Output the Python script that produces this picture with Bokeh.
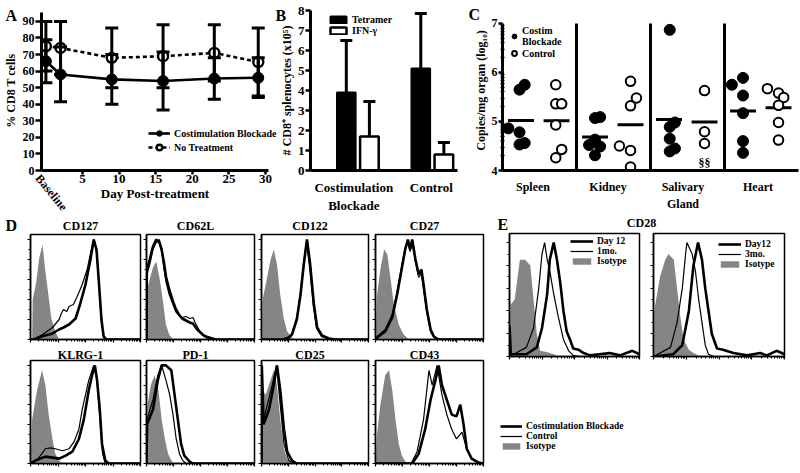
import numpy as np
from bokeh.plotting import figure
from bokeh.layouts import row, column
from bokeh.models import (Range1d, FixedTicker, Whisker, TeeHead, Legend, LegendItem,
                          Label, ColumnDataSource, GridBox)
from bokeh.embed import file_html
from bokeh.resources import INLINE

FONT = "Liberation Serif"
GRAY = "#858585"

# ---------------- Panel A data ----------------
days = [0, 2, 9, 16, 23, 29]
cb_pct = [66, 58, 55, 54, 55.5, 56]
cb_pct_err = [13, 16.5, 15, 17.5, 12.5, 12]
nt_pct = [75, 74, 68, 69, 71, 65.5]
nt_pct_err = [15, 16, 18, 19, 17, 20.5]
day_ticks = [5, 10, 15, 20, 25, 30]
pct_ticks = [0, 10, 20, 30, 40, 50, 60, 70, 80, 90]

# ---------------- Panel B data ----------------
b_groups = ["Costimulation\nBlockade", "Control"]
tetramer = [3.9, 5.1]
tetramer_err = [2.6, 2.75]
ifng = [1.7, 0.8]
ifng_err = [1.75, 0.6]
b_ticks = [0, 1, 2, 3, 4, 5, 6, 7, 8]

# ---------------- Panel C data ----------------
organs = ["Spleen", "Kidney", "Salivary\nGland", "Heart"]
cb_spleen = [4.86, 4.78, 5.65, 5.75, 4.53, 4.56]
cb_kidney = [5.07, 5.09, 4.63, 4.52, 4.49, 4.31]
cb_salivary = [6.87, 4.89, 4.98, 4.65, 4.39, 4.45]
cb_heart = [5.75, 5.89, 5.53, 5.17, 4.60, 4.36]
ct_spleen = [5.75, 5.36, 5.36, 4.93, 4.43, 4.26]
ct_kidney = [5.82, 5.48, 5.32, 4.50, 4.41, 4.07]
ct_salivary = [5.63, 4.79, 4.55]
ct_heart = [5.67, 5.58, 5.49, 5.33, 4.98, 4.62]
cb_jitter_spleen = [-0.17, -0.02, -0.02, 0.05, -0.02, 0.05]
cb_jitter_kidney = [0.0, 0.07, 0.0, -0.08, 0.07, 0.0]
cb_jitter_salivary = [0.01, 0.01, 0.08, 0.01, 0.01, 0.08]
cb_jitter_heart = [-0.15, 0.0, 0.0, 0.0, 0.0, 0.0]
ct_jitter_spleen = [-0.01, -0.01, 0.07, -0.01, 0.07, -0.01]
ct_jitter_kidney = [0.0, 0.08, 0.0, -0.15, 0.0, 0.0]
ct_jitter_salivary = [0.0, 0.0, 0.0]
ct_jitter_heart = [-0.15, 0.0, 0.07, 0.0, 0.0, 0.0]
c_ticks = [4, 5, 6, 7]

# ---------------- Panel D / E histogram data (x: 0-1 log axis, y: % of max) ----------------
CD127_CB = [(0, 0), (0.03, 0), (0.1, 3), (0.2, 6), (0.26, 10), (0.3, 12), (0.35, 15), (0.41, 21), (0.45, 35),
            (0.5, 55), (0.545, 80), (0.575, 100), (0.6, 90), (0.62, 60), (0.645, 20), (0.665, 3), (0.69, 0), (1, 0)]
CD127_CTRL = [(0, 0), (0.03, 0), (0.11, 5), (0.2, 12), (0.26, 20), (0.28, 26), (0.3, 30), (0.33, 28), (0.35, 33),
              (0.39, 35), (0.42, 42), (0.44, 47), (0.47, 55), (0.485, 60), (0.515, 70), (0.545, 86), (0.575, 100),
              (0.6, 88), (0.62, 58), (0.645, 18), (0.665, 2), (0.69, 0), (1, 0)]
CD127_ISO = [(0, 0), (0.015, 0), (0.02, 40), (0.05, 56), (0.08, 82), (0.11, 95), (0.13, 73), (0.16, 47),
             (0.19, 21), (0.225, 8), (0.26, 0), (1, 0)]

CD62L_CB = [(0, 0), (0.003, 70), (0.03, 80), (0.06, 93), (0.09, 100), (0.12, 97), (0.14, 90), (0.16, 78),
            (0.18, 63), (0.21, 50), (0.245, 38), (0.27, 31), (0.3, 25), (0.33, 21), (0.365, 19), (0.4, 17),
            (0.43, 16), (0.45, 13), (0.47, 10), (0.5, 7), (0.52, 5), (0.55, 3), (0.58, 2), (0.64, 0), (1, 0)]
CD62L_CTRL = [(0, 0), (0.003, 65), (0.03, 75), (0.06, 90), (0.09, 97), (0.12, 100), (0.14, 88), (0.16, 72),
              (0.18, 58), (0.21, 45), (0.245, 35), (0.27, 28), (0.3, 24), (0.33, 22), (0.365, 23), (0.4, 21),
              (0.43, 22), (0.45, 17), (0.47, 13), (0.5, 7), (0.52, 4), (0.55, 2), (0.6, 0), (1, 0)]
CD62L_ISO = [(0, 0), (0.005, 50), (0.03, 60), (0.06, 72), (0.09, 78), (0.12, 62), (0.15, 40), (0.18, 15),
             (0.21, 5), (0.245, 0), (1, 0)]

CD122_CB = [(0, 0), (0.2, 0), (0.255, 2), (0.285, 5), (0.33, 20), (0.365, 45), (0.395, 75), (0.425, 100),
            (0.455, 75), (0.49, 35), (0.52, 12), (0.565, 4), (0.63, 1), (0.69, 0), (1, 0)]
CD122_CTRL = [(0, 0), (0.2, 0), (0.255, 2), (0.285, 6), (0.33, 22), (0.365, 48), (0.395, 78), (0.42, 98),
              (0.45, 72), (0.485, 33), (0.515, 11), (0.56, 3), (0.62, 1), (0.68, 0), (1, 0)]
CD122_ISO = [(0, 0), (0.01, 40), (0.04, 55), (0.085, 80), (0.115, 90), (0.145, 75), (0.175, 45), (0.21, 20),
             (0.24, 8), (0.285, 2), (0.32, 0), (1, 0)]

CD27_CB = [(0, 0), (0.015, 2), (0.09, 8), (0.155, 22), (0.2, 45), (0.245, 72), (0.275, 90), (0.3, 100),
           (0.32, 90), (0.34, 100), (0.37, 80), (0.4, 65), (0.425, 70), (0.445, 55), (0.475, 30), (0.51, 10),
           (0.54, 3), (0.585, 0), (1, 0)]
CD27_CTRL = [(0, 0), (0.015, 3), (0.09, 10), (0.155, 25), (0.2, 48), (0.245, 75), (0.275, 92), (0.3, 98),
             (0.32, 88), (0.34, 97), (0.37, 78), (0.4, 62), (0.425, 66), (0.445, 50), (0.475, 27), (0.51, 8),
             (0.54, 2), (0.58, 0), (1, 0)]
CD27_ISO = [(0, 0), (0.015, 45), (0.045, 70), (0.08, 90), (0.11, 85), (0.14, 60), (0.17, 35), (0.215, 15),
            (0.26, 5), (0.31, 0), (1, 0)]

KLRG1_CB = [(0, 0), (0.045, 3), (0.135, 7), (0.2, 6), (0.26, 5), (0.32, 8), (0.38, 12), (0.44, 25), (0.485, 45),
            (0.53, 75), (0.56, 90), (0.585, 100), (0.605, 85), (0.63, 55), (0.65, 20), (0.68, 3), (0.71, 0), (1, 0)]
KLRG1_CTRL = [(0, 0), (0.045, 2), (0.105, 10), (0.135, 15), (0.18, 16), (0.225, 15), (0.29, 13), (0.35, 15),
              (0.395, 22), (0.44, 35), (0.47, 55), (0.5, 70), (0.53, 85), (0.56, 95), (0.575, 100), (0.605, 85),
              (0.635, 40), (0.655, 10), (0.68, 0), (1, 0)]
KLRG1_ISO = [(0, 0), (0.015, 45), (0.06, 75), (0.105, 95), (0.135, 80), (0.165, 50), (0.2, 25), (0.225, 10),
             (0.26, 3), (0.29, 0), (1, 0)]

PD1_CB = [(0, 0), (0.005, 40), (0.06, 55), (0.105, 85), (0.14, 100), (0.18, 100), (0.23, 95), (0.26, 70),
          (0.29, 45), (0.32, 20), (0.35, 8), (0.4, 2), (0.43, 0), (1, 0)]
PD1_CTRL = [(0, 0), (0.005, 45), (0.06, 65), (0.105, 90), (0.14, 100), (0.18, 85), (0.215, 70), (0.245, 50),
            (0.275, 25), (0.305, 10), (0.335, 3), (0.37, 0), (1, 0)]
PD1_ISO = [(0, 0), (0.01, 60), (0.04, 80), (0.075, 90), (0.11, 75), (0.14, 45), (0.17, 25), (0.2, 10),
           (0.23, 3), (0.26, 0), (1, 0)]

CD25_CB = [(0, 0), (0.003, 100), (0.02, 40), (0.07, 55), (0.115, 80), (0.145, 100), (0.175, 75), (0.21, 35),
           (0.24, 12), (0.285, 3), (0.33, 0), (1, 0)]
CD25_CTRL = [(0, 0), (0.003, 95), (0.02, 45), (0.1, 80), (0.14, 100), (0.175, 60), (0.21, 20), (0.255, 3),
             (0.3, 0), (1, 0)]
CD25_ISO = [(0, 0), (0.01, 75), (0.04, 70), (0.085, 85), (0.115, 95), (0.145, 80), (0.175, 45), (0.21, 15),
            (0.24, 5), (0.285, 0), (1, 0)]

CD43_CB = [(0, 0), (0.34, 0), (0.4, 10), (0.46, 35), (0.51, 65), (0.555, 85), (0.585, 100), (0.615, 80),
           (0.66, 65), (0.705, 50), (0.75, 48), (0.785, 60), (0.815, 40), (0.845, 15), (0.89, 5), (0.955, 1), (1, 0)]
CD43_CTRL = [(0, 0), (0.33, 0), (0.385, 12), (0.445, 45), (0.495, 95), (0.525, 80), (0.57, 100), (0.615, 70),
             (0.66, 50), (0.705, 35), (0.75, 25), (0.8, 32), (0.845, 15), (0.89, 5), (0.955, 1), (1, 0)]
CD43_ISO = [(0, 0), (0.015, 30), (0.045, 60), (0.09, 90), (0.125, 95), (0.155, 75), (0.185, 45), (0.215, 20),
            (0.245, 8), (0.275, 2), (0.31, 0), (1, 0)]

CD28_DAY12_A = [(0, 27), (0.01, 2), (0.13, 2), (0.21, 8), (0.25, 25), (0.29, 55), (0.31, 85), (0.34, 100),
                (0.365, 85), (0.39, 65), (0.415, 40), (0.44, 22), (0.465, 15), (0.49, 7), (0.53, 6), (0.57, 3),
                (0.62, 1), (0.69, 2), (0.77, 3), (0.85, 1), (0.945, 5), (1, 2)]
CD28_1MO = [(0, 0), (0.13, 8), (0.185, 25), (0.225, 60), (0.25, 90), (0.27, 100), (0.29, 85), (0.31, 75),
            (0.34, 55), (0.375, 35), (0.415, 15), (0.455, 5), (0.49, 1), (0.54, 0), (1, 0)]
CD28_ISO_A = [(0, 0), (0.005, 45), (0.04, 50), (0.08, 85), (0.12, 85), (0.16, 80), (0.185, 50), (0.21, 20),
              (0.235, 5), (0.285, 4), (0.34, 2), (0.39, 0), (1, 0)]
CD28_DAY12_B = [(0, 0), (0.15, 2), (0.22, 10), (0.27, 40), (0.305, 80), (0.34, 100), (0.37, 85), (0.395, 60),
                (0.42, 40), (0.445, 20), (0.485, 7), (0.53, 6), (0.61, 3), (0.715, 1), (0.815, 3), (0.865, 1),
                (0.94, 5), (1, 2)]
CD28_3MO = [(0, 0), (0.13, 8), (0.18, 30), (0.22, 60), (0.245, 90), (0.255, 100), (0.295, 90), (0.32, 75),
            (0.345, 50), (0.37, 30), (0.395, 10), (0.42, 2), (0.46, 0), (1, 0)]
CD28_ISO_B = [(0, 0), (0.005, 40), (0.05, 70), (0.09, 85), (0.115, 90), (0.155, 85), (0.18, 60), (0.205, 35),
              (0.23, 15), (0.27, 6), (0.305, 3), (0.36, 0), (1, 0)]

# ---------------- layout constants (pixels) ----------------
W, H = 800, 473
TOP_H = 218
BOT_H = H - TOP_H
TOP_T, TOP_B = 10, 48          # shared frame top / bottom borders of the top row


# ---------------- helpers ----------------
def style_axis(ax, label_size="12px", line_width=3):
    ax.axis_line_width = line_width
    ax.axis_line_color = "black"
    ax.major_tick_line_width = 2.5
    ax.major_tick_line_color = "black"
    ax.major_tick_in = 0
    ax.major_label_text_font = FONT
    ax.major_label_text_font_style = "bold"
    ax.major_label_text_font_size = label_size
    ax.major_label_text_color = "black"
    ax.axis_label_text_font = FONT
    ax.axis_label_text_font_style = "bold"
    ax.axis_label_text_font_size = "12px"
    ax.axis_label_text_color = "black"
    ax.minor_tick_line_color = None


def hide_labels(ax):
    ax.major_label_text_color = None
    ax.major_label_text_font_size = "1px"
    ax.major_label_standoff = 0


def legend_style(lg, size="10px"):
    lg.label_text_font = FONT
    lg.label_text_font_style = "bold"
    lg.label_text_font_size = size
    lg.label_text_color = "black"
    lg.border_line_color = None
    lg.background_fill_alpha = 0
    lg.padding = 0
    lg.margin = 0
    lg.spacing = 0
    lg.label_standoff = 4


def fig(w, h, xr, yr, l, r, t, b):
    p = figure(width=w, height=h, x_range=xr, y_range=yr, toolbar_location=None, output_backend="svg",
               min_border_left=l, min_border_right=r, min_border_top=t, min_border_bottom=b)
    p.grid.visible = False
    return p


# ---------------- Panel A ----------------
A_L, A_W = 40, 276
pA = fig(A_W, TOP_H, Range1d(-0.6, 30.4), Range1d(0, 96.6), A_L, 8, TOP_T, TOP_B)
pA.outline_line_color = None
srcA_cb = ColumnDataSource(dict(x=days, y=cb_pct,
                                lo=[m - e for m, e in zip(cb_pct, cb_pct_err)],
                                hi=[m + e for m, e in zip(cb_pct, cb_pct_err)]))
srcA_nt = ColumnDataSource(dict(x=days, y=nt_pct,
                                lo=[m - e for m, e in zip(nt_pct, nt_pct_err)],
                                hi=[m + e for m, e in zip(nt_pct, nt_pct_err)]))
CB_LINE = dict(line_color="black", line_width=2.6)
NT_LINE = dict(line_color="black", line_width=2.6, line_dash="4 3")
CB_MARK = dict(size=11, fill_color="black", line_color="black")
NT_MARK = dict(size=10, fill_color="white", line_color="black", line_width=2.4)
pA.line("x", "y", source=srcA_cb, **CB_LINE)
pA.line("x", "y", source=srcA_nt, **NT_LINE)
pA.scatter("x", "y", source=srcA_cb, **CB_MARK)
pA.scatter("x", "y", source=srcA_nt, **NT_MARK)
for src in (srcA_cb, srcA_nt):
    pA.add_layout(Whisker(source=src, base="x", lower="lo", upper="hi", line_width=3, level="overlay",
                          upper_head=TeeHead(size=13, line_width=3),
                          lower_head=TeeHead(size=13, line_width=3)))
style_axis(pA.xaxis[0], "13px")
style_axis(pA.yaxis[0], "12px")
pA.xaxis.ticker = FixedTicker(ticks=day_ticks)
pA.yaxis.ticker = FixedTicker(ticks=pct_ticks)
pA.yaxis.bounds = (0, 95.4)
pA.xaxis.major_tick_out = 4
pA.yaxis.major_tick_out = 6
pA.xaxis.major_label_standoff = 0
pA.yaxis.major_label_standoff = 1
pA.xaxis.axis_label = "Day Post-treatment"
pA.xaxis.axis_label_text_font_size = "13px"
pA.xaxis.axis_label_standoff = 0
pA.yaxis.axis_label = "% CD8 T cells"
pA.yaxis.axis_label_standoff = 2

# ---------------- Panel B ----------------
B_X0, B_L, B_R, B_W = A_W, 28, 13, 194
B_XR = Range1d(0.364, 2.338)
pB = fig(B_W, TOP_H, B_XR, Range1d(0, 8.0), B_L, B_R, TOP_T, TOP_B)
pB.outline_line_color = None
bx = np.arange(1, len(b_groups) + 1)
off = 0.155
rT = pB.vbar(x=bx - off, top=tetramer, width=0.25, fill_color="black", line_color="black", line_width=2)
rI = pB.vbar(x=bx + off, top=ifng, width=0.25, fill_color="white", line_color="black", line_width=2.5)
for xs, tops, errs in ((bx - off, tetramer, tetramer_err), (bx + off, ifng, ifng_err)):
    s = ColumnDataSource(dict(x=list(xs), lo=tops, hi=[t + e for t, e in zip(tops, errs)]))
    pB.add_layout(Whisker(source=s, base="x", lower="lo", upper="hi", line_width=3, level="overlay",
                          upper_head=TeeHead(size=12, line_width=3), lower_head=None))
style_axis(pB.xaxis[0], "13px")
style_axis(pB.yaxis[0], "13px")
pB.yaxis.ticker = FixedTicker(ticks=b_ticks)
pB.yaxis.major_tick_out = 5
pB.yaxis.major_label_standoff = 1
pB.yaxis.axis_label = "# CD8\u207a splenocytes (x10\u2075)"
pB.yaxis.axis_label_standoff = 1
pB.xaxis.ticker = FixedTicker(ticks=[int(v) for v in bx])
pB.xaxis.major_tick_out = 0
hide_labels(pB.xaxis[0])
legB = Legend(items=[LegendItem(label="Tetramer", renderers=[rT]), LegendItem(label="IFN-\u03b3", renderers=[rI])],
              location=(18, 134), glyph_width=20, glyph_height=9, label_height=11)
legend_style(legB)
pB.add_layout(legB)

# ---------------- Panel C ----------------
C_X0, C_L, C_W = A_W + B_W, 28, W - A_W - B_W
pC = fig(C_W, TOP_H, Range1d(0, len(organs)), Range1d(4, 7.265), C_L, 2, TOP_T, TOP_B)
pC.outline_line_color = None
cb_sets = [cb_spleen, cb_kidney, cb_salivary, cb_heart]
ct_sets = [ct_spleen, ct_kidney, ct_salivary, ct_heart]
cb_jit = [cb_jitter_spleen, cb_jitter_kidney, cb_jitter_salivary, cb_jitter_heart]
ct_jit = [ct_jitter_spleen, ct_jitter_kidney, ct_jitter_salivary, ct_jitter_heart]
CB_POS, CT_POS, HALF = 0.25, 0.73, 0.175
seps = list(range(1, len(organs)))
pC.segment(x0=seps, x1=seps, y0=[c_ticks[0]] * len(seps), y1=[c_ticks[-1]] * len(seps),
           line_color="black", line_width=3)
cbx, cby, ctx, cty = [], [], [], []
for i, (vals, jit) in enumerate(zip(cb_sets, cb_jit)):
    cbx += [i + CB_POS + j for j in jit]
    cby += vals
for i, (vals, jit) in enumerate(zip(ct_sets, ct_jit)):
    ctx += [i + CT_POS + j for j in jit]
    cty += vals
mean_x = [i + CB_POS for i in range(len(organs))] + [i + CT_POS for i in range(len(organs))]
mean_y = [float(np.mean(v)) for v in cb_sets] + [float(np.mean(v)) for v in ct_sets]
pC.segment(x0=[m - HALF for m in mean_x], x1=[m + HALF for m in mean_x], y0=mean_y, y1=mean_y,
           line_color="black", line_width=3)
sC1 = pC.scatter(cbx, cby, size=11, fill_color="black", line_color="black")
sC2 = pC.scatter(ctx, cty, size=9.5, fill_color="white", line_color="black", line_width=2)
pC.add_layout(Label(x=2 + CT_POS, y=4, y_offset=1, text="\u00a7\u00a7", text_font=FONT,
                    text_font_style="bold", text_font_size="12px", text_align="center",
                    text_baseline="bottom", text_color="black"))
style_axis(pC.xaxis[0], "12px")
style_axis(pC.yaxis[0], "12px")
pC.yaxis.ticker = FixedTicker(ticks=c_ticks,
                              minor_ticks=[d + np.log10(k) for d in c_ticks[:-1] for k in range(2, 10)])
pC.yaxis.bounds = (c_ticks[0], c_ticks[-1])
pC.yaxis.minor_tick_line_color = "black"
pC.yaxis.minor_tick_line_width = 1.5
pC.yaxis.minor_tick_in = 2
pC.yaxis.minor_tick_out = 2
pC.yaxis.major_tick_out = 4
pC.yaxis.major_label_standoff = 1
pC.yaxis.axis_label = "Copies/mg organ (log\u2081\u2080)"
pC.yaxis.axis_label_standoff = 1
pC.xaxis.ticker = FixedTicker(ticks=[i + 0.5 for i in range(len(organs))])
pC.xaxis.major_tick_out = 0
hide_labels(pC.xaxis[0])
legC = Legend(items=[LegendItem(label="Costim\nBlockade", renderers=[sC1]),
                     LegendItem(label="Control", renderers=[sC2])],
              location=(6, 111), glyph_width=12, glyph_height=12, label_height=12)
legend_style(legC)
legC.label_standoff = 2
pC.add_layout(legC)

# ---------------- Histograms ----------------
LOG_MAJOR = [d / 4 for d in range(5)]
LOG_MINOR = [(d + np.log10(k)) / 4 for d in range(4) for k in range(2, 10)]


def hist_fig(cb, ctrl, iso, w, h, bl, br, bt, bb, ymax=105):
    p = fig(w, h, Range1d(0, 1), Range1d(0, ymax), bl, br, bt, bb)
    p.outline_line_color = "black"
    p.outline_line_width = 1.5
    p.outline_line_alpha = 1
    ix, iy = zip(*iso)
    r_iso = p.varea(x=list(ix), y1=0, y2=list(iy), fill_color=GRAY)
    cx, cy = zip(*ctrl)
    r_ctrl = p.line(list(cx), list(cy), line_color="black", line_width=1.2)
    bx_, by_ = zip(*cb)
    r_cb = p.line(list(bx_), list(by_), line_color="black", line_width=2.6)
    p.xaxis.ticker = FixedTicker(ticks=LOG_MAJOR, minor_ticks=LOG_MINOR)
    p.yaxis.ticker = FixedTicker(ticks=[0, 20, 40, 60, 80, 100], minor_ticks=[10, 30, 50, 70, 90])
    for ax in (p.xaxis[0], p.yaxis[0]):
        ax.axis_line_width = 1.5
        ax.axis_line_color = "black"
        ax.major_tick_line_width = 1.2
        ax.major_tick_in = 0
        ax.major_tick_out = 3
        ax.minor_tick_line_width = 1
        ax.minor_tick_line_color = "black"
        ax.minor_tick_in = 0
        ax.minor_tick_out = 2
        hide_labels(ax)
    return p, (r_cb, r_ctrl, r_iso)


# (name, cb, ctrl, iso)
row1_specs = [("CD127", CD127_CB, CD127_CTRL, CD127_ISO), ("CD62L", CD62L_CB, CD62L_CTRL, CD62L_ISO),
              ("CD122", CD122_CB, CD122_CTRL, CD122_ISO), ("CD27", CD27_CB, CD27_CTRL, CD27_ISO)]
row2_specs = [("KLRG-1", KLRG1_CB, KLRG1_CTRL, KLRG1_ISO), ("PD-1", PD1_CB, PD1_CTRL, PD1_ISO),
              ("CD25", CD25_CB, CD25_CTRL, CD25_ISO), ("CD43", CD43_CB, CD43_CTRL, CD43_ISO)]
# column geometry: (width, left border, right border)
D_COLS = [(143, 30, 3), (114, 3, 3), (114, 4, 3), (115, 4, 3)]
R1_H, R1_T, R1_B = 129, 16, 8
R2_H, R2_T, R2_B = BOT_H - 129, 13, 10
r1 = [hist_fig(a, b, c, w, R1_H, bl, br, R1_T, R1_B)[0]
      for (n, a, b, c), (w, bl, br) in zip(row1_specs, D_COLS)]
r2 = [hist_fig(a, b, c, w, R2_H, bl, br, R2_T, R2_B)[0]
      for (n, a, b, c), (w, bl, br) in zip(row2_specs, D_COLS)]

# ---------------- Panel E ----------------
D_W = sum(c[0] for c in D_COLS)
E1_W, E2_W = 160, W - D_W - 160
e1, (e1_cb, e1_ct, e1_iso) = hist_fig(CD28_DAY12_A, CD28_1MO, CD28_ISO_A, E1_W, BOT_H, 23, 7, 15, 117, ymax=108)
e2, (e2_cb, e2_ct, e2_iso) = hist_fig(CD28_DAY12_B, CD28_3MO, CD28_ISO_B, E2_W, BOT_H, 7, 16, 15, 117, ymax=108)
legE1 = Legend(items=[LegendItem(label="Day 12", renderers=[e1_cb]), LegendItem(label="1mo.", renderers=[e1_ct]),
                      LegendItem(label="Isotype", renderers=[e1_iso])],
               location=(61, 90), glyph_width=23, glyph_height=8, label_height=8)
legend_style(legE1, "9.5px")
e1.add_layout(legE1)
legE2 = Legend(items=[LegendItem(label="Day12", renderers=[e2_cb]), LegendItem(label="3mo.", renderers=[e2_ct]),
                      LegendItem(label="Isotype", renderers=[e2_iso])],
               location=(65, 87), glyph_width=23, glyph_height=8, label_height=8)
legend_style(legE2, "9.5px")
e2.add_layout(legE2)

# ---------------- text overlay (panel letters, titles, category labels, legends) ----------------
ov = figure(width=W, height=H, x_range=Range1d(0, W), y_range=Range1d(H, 0), toolbar_location=None,
            output_backend="svg", x_axis_type=None, y_axis_type=None, min_border=0)
ov.outline_line_color = None
ov.background_fill_color = None
ov.border_fill_color = None


def txt(s, x, y, size="12px", align="center", baseline="middle", angle=0.0):
    ov.add_layout(Label(x=x, y=y, text=s, text_font=FONT, text_font_style="bold", text_font_size=size,
                        text_align=align, text_baseline=baseline, angle=angle, text_color="black"))


# panel letters
txt("A", 5, 6, "16px", "left", "top")
txt("B", B_X0 - 1, 6, "16px", "left", "top")
txt("C", C_X0 - 2, 5, "16px", "left", "top")
txt("D", 5, 216, "16px", "left", "top")
txt("E", D_W + 11, 215, "16px", "left", "top")
# "Baseline" tick label of panel A
txt("Baseline", 51, 192, "12px", "center", "middle", angle=-0.88)
# panel B category labels
b_px = (B_W - B_L - B_R) / (B_XR.end - B_XR.start)
for k, g in enumerate(b_groups):
    cxp = B_X0 + B_L + (bx[k] - B_XR.start) * b_px
    for j, line in enumerate(g.split("\n")):
        txt(line, cxp, 187 + 18 * j, "13px")
# panel C category labels
c_sec = (C_W - C_L - 2) / len(organs)
for k, o in enumerate(organs):
    cxp = C_X0 + C_L + (k + 0.5) * c_sec - 3
    for j, line in enumerate(o.split("\n")):
        txt(line, cxp, 186 + 17 * j, "12px")
# histogram titles
xcur = 0
for (w, bl, br), s1, s2 in zip(D_COLS, row1_specs, row2_specs):
    cx_ = xcur + bl + (w - bl - br) / 2 - 5
    txt(s1[0], cx_, 225, "12px")
    txt(s2[0], cx_, 354, "12px")
    xcur += w
txt("CD28", 641, 222, "12px")

nan = [float("nan")]
# legend of panel A (kept on the overlay so that its long label is not clipped)
a_cb = [ov.line(x=nan, y=nan, **CB_LINE), ov.scatter(x=nan, y=nan, **CB_MARK)]
a_nt = [ov.line(x=nan, y=nan, **NT_LINE), ov.scatter(x=nan, y=nan, **NT_MARK)]
legA = Legend(items=[LegendItem(label="Costimulation Blockade", renderers=a_cb),
                     LegendItem(label="No Treatment", renderers=a_nt)],
              location=(148, H - 154), glyph_width=22, glyph_height=14, label_height=14)
legend_style(legA)
ov.add_layout(legA)
# shared legend of panel D (drawn below panel E as in the original figure)
d_cb = ov.line(x=nan, y=nan, line_color="black", line_width=2.6)
d_ct = ov.line(x=nan, y=nan, line_color="black", line_width=1.2)
d_iso = ov.varea(x=nan, y1=nan, y2=nan, fill_color=GRAY)
legD = Legend(items=[LegendItem(label="Costimulation Blockade", renderers=[d_cb]),
                     LegendItem(label="Control", renderers=[d_ct]),
                     LegendItem(label="Isotype", renderers=[d_iso])],
              location=(D_W + 14, 22), glyph_width=22, glyph_height=8, label_height=8)
legend_style(legD, "9.5px")
ov.add_layout(legD)

top = row(pA, pB, pC)
bottom = row(column(row(*r1), row(*r2)), row(e1, e2))
layout = GridBox(children=[(top, 0, 0), (bottom, 1, 0), (ov, 0, 0, 2, 1)])

open("out.html", "w").write(file_html(layout, INLINE))
